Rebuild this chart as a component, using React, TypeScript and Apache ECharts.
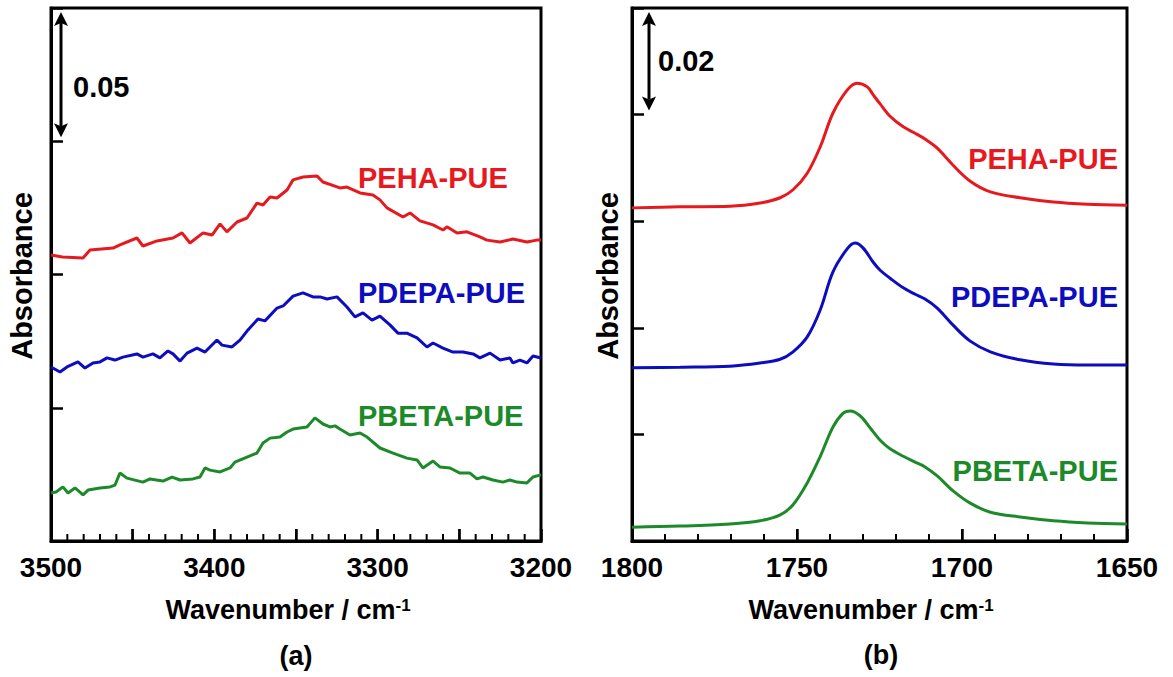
import React, { useEffect, useRef } from "react";
import * as echarts from "echarts";

const FONT = '"Liberation Sans", Arial, Helvetica, sans-serif';
const RED = "#e6191e";
const BLUE = "#0d0dbf";
const GREEN = "#1d8a2a";

// Panel (a): N–H stretching region, [wavenumber, absorbance]
const nhMin = 3200;
const nhMax = 3500;
const nhTickLabels = [3500, 3400, 3300, 3200];

const pehaNH: [number, number][] = [
  [3500, 0.1073], [3493, 0.1066], [3480.4, 0.1062], [3476.1, 0.1092], [3462, 0.1099],
  [3457.8, 0.1111], [3447.4, 0.1137], [3443.7, 0.1107], [3435.1, 0.1126], [3425.3, 0.1137],
  [3419.8, 0.1156], [3414.9, 0.1118], [3406.9, 0.1156], [3401.4, 0.1148], [3396.5, 0.119],
  [3392.3, 0.116], [3386.1, 0.1197], [3380, 0.1212], [3373.9, 0.1268], [3370.2, 0.1261],
  [3365.9, 0.1291], [3361.6, 0.1287], [3355.5, 0.1317], [3351.8, 0.1355], [3345.7, 0.1366],
  [3337.2, 0.137], [3333.5, 0.1347], [3323.1, 0.1325], [3318.8, 0.1328], [3310.8, 0.1306],
  [3302.9, 0.1298], [3298.6, 0.128], [3294.3, 0.125], [3284.5, 0.1216], [3280.2, 0.1231],
  [3274.1, 0.1201], [3266.1, 0.1186], [3260, 0.1167], [3257.6, 0.1179], [3251.4, 0.1156],
  [3245.3, 0.116], [3237.4, 0.1141], [3233.1, 0.1129], [3225.1, 0.1122], [3217.2, 0.1133],
  [3208.6, 0.1122], [3202.5, 0.1129], [3200, 0.1129],
];

const pdepaNH: [number, number][] = [
  [3500, 0.0653], [3494.5, 0.0634], [3490.2, 0.0653], [3483.5, 0.0672], [3479.2, 0.0649],
  [3474.3, 0.0668], [3470, 0.0672], [3465.7, 0.0687], [3460.8, 0.0679], [3455.9, 0.069],
  [3447.4, 0.0702], [3443.7, 0.069], [3437.6, 0.0702], [3433.3, 0.0687], [3428.4, 0.0713],
  [3425.3, 0.0702], [3421, 0.0675], [3416.7, 0.0705], [3410.6, 0.0724], [3405.7, 0.0709],
  [3398.4, 0.0754], [3395.3, 0.0735], [3389.2, 0.0728], [3384.3, 0.0754], [3379.4, 0.0792],
  [3373.3, 0.0833], [3369, 0.0826], [3361.6, 0.0874], [3357.9, 0.0882], [3351.8, 0.0919],
  [3345.7, 0.0931], [3339.6, 0.0916], [3335.3, 0.0916], [3331, 0.0908], [3324.9, 0.0916],
  [3318.8, 0.0878], [3313.9, 0.0841], [3309, 0.0856], [3303.5, 0.0829], [3298.6, 0.0844],
  [3292.5, 0.0811], [3287.6, 0.078], [3282.1, 0.078], [3275.9, 0.0762], [3269.8, 0.0728],
  [3266.1, 0.0743], [3260, 0.0724], [3253.9, 0.0709], [3247.8, 0.0709], [3241.6, 0.0702],
  [3237.4, 0.0687], [3231.2, 0.0705], [3225.1, 0.0679], [3219, 0.0687], [3217.2, 0.0668],
  [3212.9, 0.0679], [3208.6, 0.0668], [3204.9, 0.0694], [3200, 0.0687],
];

const pbetaNH: [number, number][] = [
  [3500, 0.018], [3496.9, 0.0184], [3492.7, 0.0203], [3489.6, 0.018], [3485.3, 0.0199],
  [3480.4, 0.0173], [3477.3, 0.0191], [3470, 0.0199], [3463.9, 0.0203], [3460.8, 0.021],
  [3457.8, 0.0255], [3453.5, 0.0236], [3443.7, 0.0221], [3439.4, 0.0233], [3431.4, 0.0225],
  [3425.9, 0.024], [3421, 0.0229], [3413.1, 0.0233], [3408.8, 0.024], [3405.7, 0.0274],
  [3402.7, 0.0266], [3396.5, 0.0259], [3390.4, 0.0274], [3387.4, 0.0296], [3380, 0.0315],
  [3373.9, 0.033], [3370.2, 0.0368], [3365.9, 0.0386], [3359.8, 0.039], [3355.5, 0.0409],
  [3351.8, 0.042], [3347.6, 0.0424], [3343.3, 0.0428], [3338.4, 0.0462], [3333.5, 0.0439],
  [3329.2, 0.0428], [3326.1, 0.0432], [3323.1, 0.042], [3317, 0.0398], [3310.8, 0.0405],
  [3306.5, 0.039], [3298.6, 0.0349], [3290.6, 0.033], [3282.1, 0.0311], [3275.9, 0.0304],
  [3272.3, 0.0274], [3266.1, 0.03], [3261.9, 0.0278], [3255.7, 0.0274], [3249.6, 0.0255],
  [3243.5, 0.0255], [3239.2, 0.0233], [3235.5, 0.024], [3229.4, 0.0229], [3223.3, 0.0221],
  [3219, 0.0229], [3214.7, 0.0221], [3208.6, 0.0218], [3204.9, 0.024], [3200, 0.0248],
];

// Panel (b): C=O stretching region, [wavenumber, absorbance]
const coMin = 1650;
const coMax = 1800;
const coTickLabels = [1800, 1750, 1700, 1650];

const pehaCO: [number, number][] = [
  [1800, 0.0625], [1785.4, 0.0627], [1770.3, 0.0628], [1761.2, 0.0634], [1755.1, 0.0644],
  [1751.2, 0.0659], [1746.9, 0.069], [1743, 0.0739], [1739.1, 0.0803], [1734.8, 0.0846],
  [1731.8, 0.0859], [1728.7, 0.0852], [1726.9, 0.0837], [1724.8, 0.082], [1721.8, 0.0797],
  [1717.8, 0.0777], [1714.2, 0.0765], [1711.2, 0.0754], [1707.5, 0.0737], [1702.7, 0.0705],
  [1697.5, 0.0675], [1691.4, 0.0655], [1682.4, 0.0644], [1672.3, 0.0636], [1662, 0.0632],
  [1650, 0.063],
];

const pdepaCO: [number, number][] = [
  [1800, 0.0325], [1785.4, 0.0326], [1770.3, 0.0328], [1761.2, 0.0334], [1755.1, 0.0341],
  [1751.2, 0.0355], [1746.9, 0.0383], [1743, 0.0433], [1739.1, 0.0505], [1734.8, 0.0548],
  [1732.4, 0.0559], [1730, 0.055], [1726.9, 0.0523], [1724.8, 0.0508], [1721.8, 0.0493],
  [1717.8, 0.0475], [1714.2, 0.0463], [1711.2, 0.0454], [1707.5, 0.0437], [1702.7, 0.0405],
  [1697.5, 0.0375], [1691.4, 0.0355], [1682.4, 0.034], [1672.3, 0.0332], [1662, 0.033],
  [1650, 0.033],
];

const pbetaCO: [number, number][] = [
  [1800, 0.0026], [1785.4, 0.0028], [1770.3, 0.0032], [1761.2, 0.0038], [1755.1, 0.0049],
  [1751.2, 0.0068], [1746.9, 0.0109], [1743, 0.0158], [1739.1, 0.0214], [1736, 0.024],
  [1733.9, 0.0244], [1730.9, 0.0235], [1727.8, 0.0212], [1724.8, 0.0189], [1721.8, 0.0173],
  [1717.8, 0.0159], [1714.2, 0.0148], [1711.2, 0.0139], [1707.5, 0.0122], [1702.7, 0.0094],
  [1697.5, 0.0071], [1691.4, 0.0054], [1682.4, 0.0045], [1672.3, 0.0038], [1662, 0.0034],
  [1650, 0.0032],
];

// Scale bars: vertical extent in absorbance units
const scaleA = 0.05;
const scaleB = 0.02;

// Wavenumber tick marks: long every 50 cm-1, short every 10 cm-1
const MAJOR_STEP = 50;
const MINOR_STEP = 10;
const MAJOR_LEN = 12;
const MINOR_LEN = 7;

// Plot frames
const GRID_TOP = 8;
const GRID_H = 533;
const ABS_MAX_A = 0.2;
const ABS_MAX_B = 0.1;

// Wavenumber axes run right-to-left; plot on the negated value so the
// scale decreases to the right.
const flip = (d: [number, number][]) => d.map(([w, a]) => [-w, a]);

const txt = (
  text: string,
  x: number,
  y: number,
  fill: string,
  size: number,
  align: string = "left",
  extra: any = {}
) => ({
  type: "text",
  x,
  y,
  ...extra,
  style: {
    text,
    fill,
    fontSize: size,
    fontWeight: "bold",
    fontFamily: FONT,
    textAlign: align,
    textVerticalAlign: "middle",
  },
});

const wavenumberAxis = (gridIndex: number, min: number, max: number, labelSet: number[]) => ({
  gridIndex,
  type: "value",
  min: -max,
  max: -min,
  interval: MAJOR_STEP,
  axisLine: { show: true, onZero: false, lineStyle: { color: "#000", width: 3 } },
  axisTick: { show: true, inside: true, length: MAJOR_LEN, lineStyle: { color: "#000", width: 2.5 } },
  splitLine: { show: false },
  axisLabel: {
    show: true,
    margin: 12,
    color: "#000",
    fontSize: 28,
    fontWeight: "bold",
    fontFamily: FONT,
    showMinLabel: true,
    showMaxLabel: true,
    formatter: (v: number) => (labelSet.includes(-v) ? String(-v) : ""),
  },
});

const absorbanceAxis = (gridIndex: number, max: number, interval: number) => ({
  gridIndex,
  type: "value",
  min: 0,
  max,
  interval,
  axisLine: { show: true, onZero: false, lineStyle: { color: "#000", width: 3 } },
  axisTick: { show: true, inside: true, length: 12, lineStyle: { color: "#000", width: 2.5 } },
  axisLabel: { show: false },
  splitLine: { show: false },
});

const lineSeries = (
  idx: number,
  data: [number, number][],
  color: string,
  smooth: boolean
) => ({
  type: "line",
  xAxisIndex: idx,
  yAxisIndex: idx,
  data: flip(data),
  smooth: smooth ? 0.35 : false,
  showSymbol: false,
  symbol: "none",
  lineStyle: { color, width: 3 },
});

// Comb of inward ticks along the wavenumber axis, drawn through the axis scale
const tickComb = (idx: number, lo: number, hi: number, absMax: number) => {
  const perPx = absMax / GRID_H;
  const data: number[][] = [];
  for (let w = hi; w >= lo; w -= MINOR_STEP) {
    const len = (w % MAJOR_STEP === 0 ? MAJOR_LEN : MINOR_LEN) * perPx;
    data.push([-w, 0], [-w, len], [-w, 0]);
  }
  return {
    type: "line",
    xAxisIndex: idx,
    yAxisIndex: idx,
    data,
    z: 10,
    silent: true,
    clip: false,
    showSymbol: false,
    symbol: "none",
    lineStyle: { color: "#000", width: 2, cap: "butt", join: "miter" },
  };
};

const arrow = (x: number, yTop: number, yBottom: number) => {
  const hw = 7;
  const hh = 14;
  const notch = 11;
  return [
    {
      type: "line",
      shape: { x1: x, y1: yTop + notch, x2: x, y2: yBottom - notch },
      style: { stroke: "#000", lineWidth: 3 },
    },
    {
      type: "polygon",
      shape: { points: [[x, yTop], [x + hw, yTop + hh], [x, yTop + notch], [x - hw, yTop + hh]] },
      style: { fill: "#000" },
    },
    {
      type: "polygon",
      shape: {
        points: [[x, yBottom], [x + hw, yBottom - hh], [x, yBottom - notch], [x - hw, yBottom - hh]],
      },
      style: { fill: "#000" },
    },
  ];
};

const titleRich = {
  a: { fontSize: 27, fontWeight: "bold", fontFamily: FONT, fill: "#000" },
  s: { fontSize: 17, fontWeight: "bold", fontFamily: FONT, fill: "#000", verticalAlign: "top" },
};

const axisTitle = (x: number) => ({
  type: "text",
  x,
  y: 610,
  style: {
    text: "{a|Wavenumber / cm}{s|-1}",
    rich: titleRich,
    textAlign: "center",
    textVerticalAlign: "middle",
  },
});

export default function App() {
  const ref = useRef<HTMLDivElement>(null);

  useEffect(() => {
    if (!ref.current) return;
    const chart = echarts.init(ref.current, null, { renderer: "svg" });

    chart.setOption({
      animation: false,
      grid: [
        { left: 51, top: GRID_TOP, width: 490, height: GRID_H, show: true, borderColor: "#000", borderWidth: 3 },
        { left: 632, top: GRID_TOP, width: 495, height: GRID_H, show: true, borderColor: "#000", borderWidth: 3 },
      ],
      xAxis: [
        wavenumberAxis(0, nhMin, nhMax, nhTickLabels),
        wavenumberAxis(1, coMin, coMax, coTickLabels),
      ],
      yAxis: [absorbanceAxis(0, ABS_MAX_A, 0.05), absorbanceAxis(1, ABS_MAX_B, 0.02)],
      series: [
        lineSeries(0, pehaNH, RED, false),
        lineSeries(0, pdepaNH, BLUE, false),
        lineSeries(0, pbetaNH, GREEN, false),
        lineSeries(1, pehaCO, RED, true),
        lineSeries(1, pdepaCO, BLUE, true),
        lineSeries(1, pbetaCO, GREEN, true),
        tickComb(0, nhMin, nhMax, ABS_MAX_A),
        tickComb(1, coMin, coMax, ABS_MAX_B),
      ],
    });

    const px = (idx: number, w: number, a: number) =>
      chart.convertToPixel({ xAxisIndex: idx, yAxisIndex: idx }, [-w, a]) as number[];

    // Scale bars drawn from the absorbance axes
    const a0 = px(0, 3494, ABS_MAX_A);
    const a1 = px(0, 3494, ABS_MAX_A - scaleA);
    const b0 = px(1, 1794.8, ABS_MAX_B);
    const b1 = px(1, 1794.8, ABS_MAX_B - scaleB);

    chart.setOption({
      graphic: {
        elements: [
          ...arrow(Math.round(a0[0]), a0[1] + 4, a1[1] - 4),
          ...arrow(Math.round(b0[0]), b0[1] + 4, b1[1] - 4),
          txt(String(scaleA), 73, 87, "#000", 29),
          txt(String(scaleB), 658, 61, "#000", 29),
          txt("PEHA-PUE", 358, 178, RED, 29),
          txt("PDEPA-PUE", 358, 293, BLUE, 29),
          txt("PBETA-PUE", 358, 416, GREEN, 29),
          txt("PEHA-PUE", 1118, 159, RED, 29, "right"),
          txt("PDEPA-PUE", 1118, 297, BLUE, 29, "right"),
          txt("PBETA-PUE", 1118, 471, GREEN, 29, "right"),
          txt("Absorbance", 22, 276, "#000", 29, "center", { rotation: Math.PI / 2 }),
          txt("Absorbance", 608, 276, "#000", 29, "center", { rotation: Math.PI / 2 }),
          axisTitle(288),
          axisTitle(871),
          txt("(a)", 296, 656, "#000", 27, "center"),
          txt("(b)", 881, 655, "#000", 27, "center"),
        ],
      },
    });

    return () => chart.dispose();
  }, []);

  return (
    <div
      ref={ref}
      style={{ position: "fixed", left: 0, top: 0, width: 1173, height: 677, background: "#fff" }}
    />
  );
}
